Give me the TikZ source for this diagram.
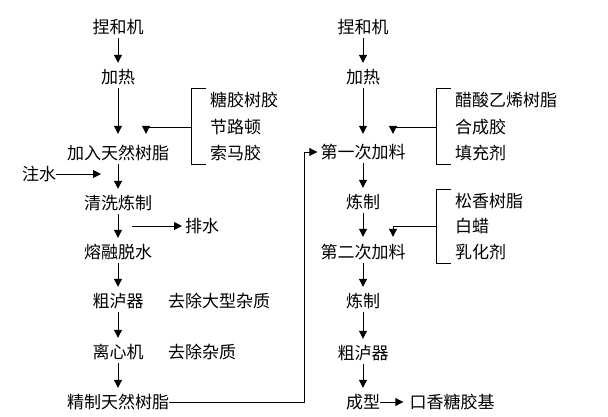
\documentclass[tikz,border=0pt]{standalone}
\usepackage{fontspec}
\setmainfont{Noto Sans CJK SC}
\usetikzlibrary{positioning,arrows.meta}
\tikzset{
    proc/.style={
        inner sep=0pt, minimum height=22pt,
        font=\fontsize{17}{18}\selectfont
    },
    item/.style={
        proc, anchor=west
    },
    flow/.style={
        ->, line width=1pt, shorten >=3pt
    },
    brace/.style={
        line width=1pt
    }
}

\begin{document}
\begin{tikzpicture}[x=1pt, y=1pt, >={Triangle[length=8pt,width=8pt]}, on grid]
    \useasboundingbox (0,0) rectangle (608,416);

        % Natural resin line
        \node[proc] (knead1) at (118,389) {捏和机};
        \node[proc, below=50pt of knead1] (heat1) {加热};
        \node[proc, below=76pt of heat1] (resin1) {加入天然树脂};
        \node[proc, below=50pt of resin1] (wash) {清洗炼制};
        \node[proc, below=49pt of wash] (melt) {熔融脱水};
        \node[proc, below=49pt of melt] (filter1) {粗泸器};
        \node[proc, below=51pt of filter1] (centri) {离心机};
        \node[proc, below=50pt of centri] (refined) {精制天然树脂};

        % Resin inputs
        \node[item] (gum1) at (210,316) {糖胶树胶};
        \node[item] (gum2) at (210,289) {节路顿};
        \node[item] (gum3) at (210,263) {索马胶};

        % Water in and out
        \node[proc] (water) at (39,242) {注水};
        \coordinate (inlet) at (104,242);
        \node[item] (drain) at (185,190) {排水};
        \coordinate (outlet) at (132,190);

        % Remarks
        \node[item] (big) at (168,115) {去除大型杂质};
        \node[item] (small) at (168,64) {去除杂质};

        % Gum base line
        \node[proc] (knead2) at (363,389) {捏和机};
        \node[proc, below=50pt of knead2] (heat2) {加热};
        \node[proc, below=75pt of heat2] (add1) {第一次加料};
        \node[proc, below=50pt of add1] (mix1) {炼制};
        \node[proc, below=50pt of mix1] (add2) {第二次加料};
        \node[proc, below=49pt of add2] (mix2) {炼制};
        \node[proc, below=52pt of mix2] (filter2) {粗泸器};
        \node[proc, below=49pt of filter2] (shape) {成型};
        \node[proc, right=89pt of shape] (base) {口香糖胶基};

        % First additions
        \node[item] (vinyl) at (455,316) {醋酸乙烯树脂};
        \node[item] (synth) at (455,289) {合成胶};
        \node[item] (filler) at (455,263) {填充剂};

        % Second additions
        \node[item] (rosin) at (455,215) {松香树脂};
        \node[item] (wax) at (455,190) {白蜡};
        \node[item] (emuls) at (455,164) {乳化剂};

        % Brackets
        \draw[brace] ([xshift=-4pt]gum1.north west) -- ++(-15pt,0) |- ([xshift=-4pt]gum3.south west);
        \draw[brace] ([xshift=-4pt]vinyl.north west) -- ++(-15pt,0) |- ([xshift=-4pt]filler.south west);
        \draw[brace] ([xshift=-4pt]rosin.north west) -- ++(-15pt,0) |- ([xshift=-4pt]emuls.south west);
        \coordinate (br1) at ([xshift=-19pt]gum2.west);
        \coordinate (br2) at ([xshift=-19pt]synth.west);
        \coordinate (br3) at ([xshift=-19pt]wax.west);

        % Arrows, left column
        \draw[flow] (knead1) -- (heat1);
        \draw[flow, shorten >=8pt] (heat1) -- (resin1);
        \draw[flow, shorten >=8pt] (br1) -| ([xshift=28pt]resin1.north);
        \draw[flow] (resin1) -- (wash);
        \draw[flow] (water) -- (inlet);
        \draw[flow] (wash) -- (melt);
        \draw[flow] (outlet) -- (drain);
        \draw[flow] (melt) -- (filter1);
        \draw[flow] (filter1) -- (centri);
        \draw[flow] (centri) -- (refined);

        % Arrows, right column
        \draw[flow] (refined.east) -| ([xshift=-16pt]add1.west) -- (add1.west);
        \draw[flow] (knead2) -- (heat2);
        \draw[flow, shorten >=7pt] (heat2) -- (add1);
        \draw[flow, shorten >=7pt] (br2) -| ([xshift=30pt]add1.north);
        \draw[flow] (add1) -- (mix1);
        \draw[flow, shorten >=4pt] (mix1) -- (add2);
        \draw[flow, shorten >=4pt] (br3) -| ([xshift=30pt]add2.north);
        \draw[flow] (add2) -- (mix2);
        \draw[flow] (mix2) -- (filter2);
        \draw[flow] (filter2) -- (shape);
        \draw[flow, shorten >=6pt] (shape) -- (base);

    \end{tikzpicture}
\end{document}
